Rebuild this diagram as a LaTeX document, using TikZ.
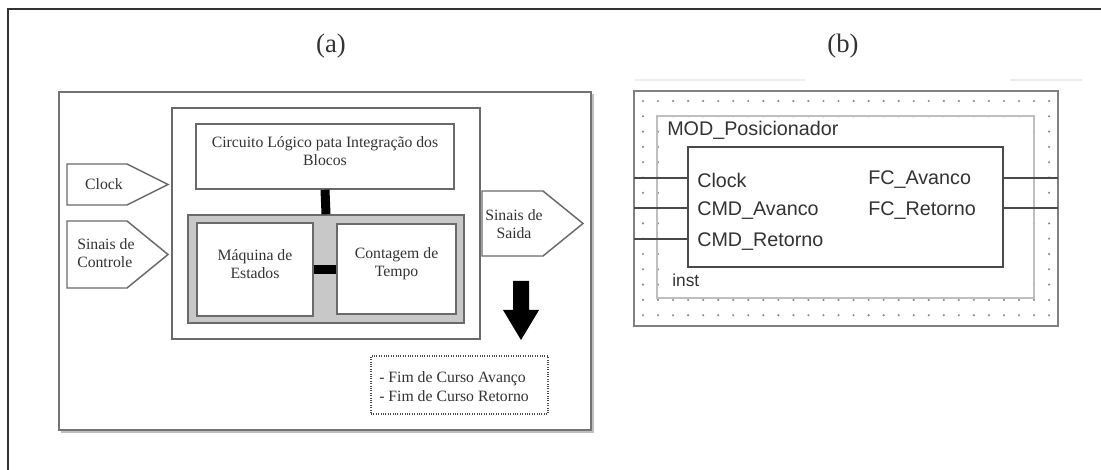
\documentclass[tikz,border=0pt]{standalone}
\usepackage{fontspec}
\setmainfont{Liberation Serif}
\newfontfamily\arialf{Liberation Sans}
\usetikzlibrary{fit}
\definecolor{boxgray}{HTML}{6A6A6A}
\definecolor{txtgray}{HTML}{333333}
\definecolor{fillgray}{HTML}{C8C8C8}
\definecolor{framegray}{HTML}{333333}
\definecolor{dotgray}{HTML}{8C8C8C}
\definecolor{bline}{HTML}{4A4A4A}
\begin{document}
\begin{tikzpicture}[x=0.75pt,y=-0.75pt,
  box/.style={draw=boxgray, line width=1.1pt, inner sep=0pt, fill=white},
  lbl/.style={font=\fontsize{11.8}{13.8}\selectfont, text=txtgray, align=center, inner sep=0pt},
  sig/.style={draw=boxgray, line width=1.1pt, fill=white},
  bar/.style={line width=6.75pt, black},
  captxt/.style={font=\fontsize{20}{24}\selectfont, text=txtgray, inner sep=0pt},
  plbl/.style={font=\arialf\fontsize{14.8}{17}\selectfont, text=txtgray, anchor=west, inner sep=0pt},
  port/.style={draw=bline, line width=1.2pt}]
\useasboundingbox (0,0) rectangle (1101,470);
\fill[white] (0,0) rectangle (1101,470);
% outer frame (open to right and bottom)
\draw[framegray, line width=1.2pt] (8,470) -- (8,9) -- (1101,9);
% captions
\node[captxt] (capa) at (331,46) {(a)};
\node[captxt] (capb) at (843,46) {(b)};
% ---------------- (a) ----------------
\draw[black!25, line width=1.2pt] (61,432) -- (593,432) -- (593,94);
\node[box, draw=black!55, fit={(59,92) (591,430)}] (abox) {};
\node[box, fit={(172,108) (480,339)}] (inner) {};
\node[box, lbl, fit={(196,124) (454,189)}] (circ) {Circuito Lógico pata Integração dos\\Blocos};
\node[box, fill=fillgray, fit={(188,215) (464,323)}] (gbox) {};
\node[box, lbl, fit={(197,223) (313,316)}] (maq) {Máquina de\\Estados};
\node[box, lbl, fit={(337,224) (456,314)}] (cont) {Contagem de\\Tempo};
\draw[bar] (circ.south) -- (gbox.north);
\draw[bar] (maq.east) -- (maq.east -| cont.west);
% input / output signal pentagons
\draw[sig] (67,164) -- (127,164) -- (168,184.5) -- (127,205) -- (67,205) -- cycle;
\node[lbl] (clk) at (104,184.5) {Clock};
\draw[sig] (67,221) -- (127,221) -- (168,254.5) -- (127,288) -- (67,288) -- cycle;
\node[lbl, align=left, anchor=west] (ctrl) at (77,253) {Sinais de\\Controle};
\draw[sig] (482,191) -- (543,191) -- (583,223.5) -- (543,256) -- (482,256) -- cycle;
\node[lbl] (said) at (514,224) {Sinais de\\Saida};
% down arrow
\fill[black] (513,281) -- (529,281) -- (529,310) -- (539,310) -- (521,340) -- (503,310) -- (513,310) -- cycle;
% dotted note box
\node[draw=bline, densely dotted, line width=0.8pt, inner sep=0pt, fit={(371,356) (548,414)}] (note) {};
\node[lbl, align=left, anchor=west] (notet) at (379,386.5) {- Fim de Curso Avanço\\- Fim de Curso Retorno};
% ---------------- (b) ----------------
\draw[black!7, line width=1.2pt] (635,80) -- (805,80);
\draw[black!7, line width=1.2pt] (1010,80) -- (1082,80);
\foreach \i in {0,...,27}{
  \foreach \j in {0,...,14}{
    \fill[dotgray] (643+15.04*\i, 101+15.3*\j) circle (1.2);
  }
}
\node[draw=black!50, line width=1.1pt, inner sep=0pt, fit={(634,91) (1058,326)}] (bout) {};
\fill[white] (659,118) rectangle (1032,296.5);
\node[draw=black!25, line width=0.8pt, inner sep=0pt, fit={(657,116) (1034,298)}] (binn) {};
\node[draw=bline, line width=1.8pt, fill=white, inner sep=0pt, fit={(688,147) (1003,267)}] (blk) {};
\coordinate (i1) at (634,178);
\coordinate (i2) at (634,208);
\coordinate (i3) at (634,239);
\coordinate (o1) at (1058,178);
\coordinate (o2) at (1058,208);
\draw[port] (i1) -- (i1 -| blk.west);
\draw[port] (i2) -- (i2 -| blk.west);
\draw[port] (i3) -- (i3 -| blk.west);
\draw[port] (blk.east |- o1) -- (o1);
\draw[port] (blk.east |- o2) -- (o2);
\node[plbl] (mod) at (667,130) {MOD\_Posicionador};
\node[plbl] (pclk) at (697,180) {Clock};
\node[plbl] (pav) at (697,211) {CMD\_Avanco};
\node[plbl] (pret) at (697,242) {CMD\_Retorno};
\node[plbl] (fav) at (868,180) {FC\_Avanco};
\node[plbl] (fret) at (868,211) {FC\_Retorno};
\node[plbl, font=\arialf\fontsize{13}{15}\selectfont] (inst) at (672,280) {inst};
\end{tikzpicture}
\end{document}
